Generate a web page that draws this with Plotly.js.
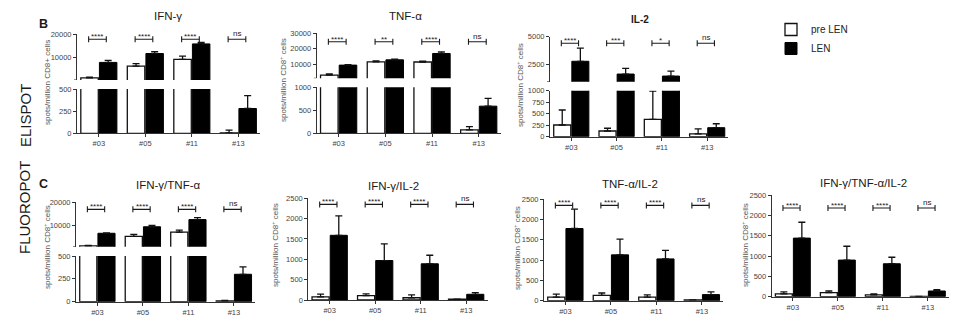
<!DOCTYPE html>
<html><head><meta charset="utf-8">
<script src="https://cdn.plot.ly/plotly-3.0.1.min.js"></script>
<style>html,body{margin:0;padding:0;background:#fff}#chart{width:958px;height:328px}</style>
</head><body><div id="chart"></div>
<script>
// ---------- DATA ----------
const categories = ['#03', '#05', '#11', '#13'];
const seriesNames = ['pre LEN', 'LEN'];

// ELISPOT
const ifngPre = [1400, 6400, 9300, 5];
const ifngPreErr = [300, 1100, 1400, 30];
const ifngLen = [8000, 11800, 15900, 280];
const ifngLenErr = [850, 850, 600, 145];
const ifngSig = ['****', '****', '****', 'ns'];

const tnfaPre = [3000, 11600, 11500, 75];
const tnfaPreErr = [800, 600, 600, 70];
const tnfaLen = [9500, 12900, 17000, 590];
const tnfaLenErr = [300, 400, 1000, 170];
const tnfaSig = ['****', '**', '****', 'ns'];

const il2Pre = [254, 124, 378, 60];
const il2PreErr = [326, 60, 615, 108];
const il2Len = [2815, 1680, 1500, 196];
const il2LenErr = [1170, 510, 440, 85];
const il2Sig = ['****', '***', '*', 'ns'];

// FLUOROPOT
const ifngTnfaPre = [850, 5000, 6900, 10];
const ifngTnfaPreErr = [200, 900, 850, 5];
const ifngTnfaLen = [6400, 9250, 12400, 300];
const ifngTnfaLenErr = [200, 600, 900, 80];
const ifngTnfaSig = ['****', '****', '****', 'ns'];

const ifngIl2Pre = [75, 110, 55, 20];
const ifngIl2PreErr = [70, 40, 70, 0];
const ifngIl2Len = [1590, 970, 890, 140];
const ifngIl2LenErr = [480, 410, 210, 40];
const ifngIl2Sig = ['****', '****', '****', 'ns'];

const tnfaIl2Pre = [90, 130, 90, 20];
const tnfaIl2PreErr = [70, 60, 55, 0];
const tnfaIl2Len = [1780, 1130, 1030, 150];
const tnfaIl2LenErr = [480, 390, 210, 70];
const tnfaIl2Sig = ['****', '****', '****', 'ns'];

const tripPre = [70, 100, 45, 5];
const tripPreErr = [50, 40, 25, 0];
const tripLen = [1440, 900, 810, 140];
const tripLenErr = [390, 340, 160, 35];
const tripSig = ['****', '****', '****', 'ns'];

// ---------- LAYOUT CONFIG ----------
const W = 958, H = 328;
const ySup = 'spots/million CD8<sup>+</sup> cells';
const panels = [
  {title: 'IFN-γ', tx: 168, ty: 16, pre: ifngPre, preErr: ifngPreErr, len: ifngLen, lenErr: ifngLenErr, sig: ifngSig, sigY: 17900,
   ax: 77, sp: 46.5, ytitle: 'spots/million CD8+ cells', ytx: 47, yty: 83,
   lower: {range: [0, 500], px: [133.3, 89], tickvals: [0, 250, 500]},
   upper: {range: [500, 20000], px: [80, 34.3], tickvals: [10000, 20000]}},
  {title: 'TNF-α', tx: 405, ty: 16, pre: tnfaPre, preErr: tnfaPreErr, len: tnfaLen, lenErr: tnfaLenErr, sig: tnfaSig, sigY: 24600,
   ax: 316.7, sp: 46.7, ytitle: ySup, ytx: 283, yty: 80,
   lower: {range: [0, 1000], px: [133.3, 87.3], tickvals: [0, 500, 1000]},
   upper: {range: [1000, 30000], px: [78.3, 33.3], tickvals: [10000, 20000, 30000]}},
  {title: '<b>IL-2</b>', tsize: 10, tx: 640, ty: 19, pre: il2Pre, preErr: il2PreErr, len: il2Len, lenErr: il2LenErr, sig: il2Sig, sigY: 4420,
   ax: 550, sp: 45.3, ytitle: ySup, ytx: 520, yty: 85,
   lower: {range: [0, 1000], px: [136.7, 90.7], tickvals: [0, 250, 500, 750, 1000]},
   upper: {range: [1000, 5000], px: [81.7, 36.7], tickvals: [2500, 5000]}},
  {title: 'IFN-γ/TNF-α', tx: 168, ty: 185, pre: ifngTnfaPre, preErr: ifngTnfaPreErr, len: ifngTnfaLen, lenErr: ifngTnfaLenErr, sig: ifngTnfaSig, sigY: 16900,
   ax: 76, sp: 45.5, ytitle: ySup, ytx: 47, yty: 247,
   lower: {range: [0, 500], px: [301.7, 256], tickvals: [0, 250, 500]},
   upper: {range: [500, 20000], px: [246.7, 202.3], tickvals: [10000, 20000]}},
  {title: 'IFN-γ/IL-2', tx: 393, ty: 186, pre: ifngIl2Pre, preErr: ifngIl2PreErr, len: ifngIl2Len, lenErr: ifngIl2LenErr, sig: ifngIl2Sig, sigY: 2350,
   ax: 308.3, sp: 45.5, ytitle: ySup, ytx: 275, yty: 245,
   lower: {range: [0, 2500], px: [300, 198.3], tickvals: [0, 500, 1000, 1500, 2000, 2500]}},
  {title: 'TNF-α/IL-2', tx: 630, ty: 184, pre: tnfaIl2Pre, preErr: tnfaIl2PreErr, len: tnfaIl2Len, lenErr: tnfaIl2LenErr, sig: tnfaIl2Sig, sigY: 2350,
   ax: 544, sp: 45.5, ytitle: ySup, ytx: 517, yty: 248,
   lower: {range: [0, 2500], px: [300.7, 199.3], tickvals: [0, 500, 1000, 1500, 2000, 2500]}},
  {title: 'IFN-γ/TNF-α/IL-2', tx: 863, ty: 183, pre: tripPre, preErr: tripPreErr, len: tripLen, lenErr: tripLenErr, sig: tripSig, sigY: 2180,
   ax: 771.7, sp: 45, ytitle: ySup, ytx: 745, yty: 245,
   lower: {range: [0, 2500], px: [296.7, 195], tickvals: [0, 500, 1000, 1500, 2000, 2500]}}
];

const FONT = 'Liberation Sans, Arial, sans-serif';
const INK = '#1a1a1a';
const AXC = '#333';
const traces = [];
const shapes = [];
const annotations = [];
const layout = {
  width: W, height: H, autosize: false,
  margin: {l: 0, r: 0, t: 0, b: 0},
  paper_bgcolor: '#fff', plot_bgcolor: 'rgba(0,0,0,0)',
  font: {family: FONT, color: INK},
  barmode: 'group', bargap: 0.2, bargroupgap: 0.06,
  showlegend: true,
  legend: {x: 771 / W, y: 1 - 15 / H, xanchor: 'left', yanchor: 'top',
           font: {size: 10, color: '#222', family: FONT}, bgcolor: 'rgba(0,0,0,0)',
           tracegroupgap: 0, itemclick: false}
};

let yCount = 0;
panels.forEach((p, pi) => {
  const xid = pi === 0 ? 'x' : 'x' + (pi + 1);
  const xname = pi === 0 ? 'xaxis' : 'xaxis' + (pi + 1);
  const segs = p.upper ? [p.lower, p.upper] : [p.lower];
  const yids = segs.map(() => { yCount++; return yCount === 1 ? 'y' : 'y' + yCount; });
  const right = Math.min(p.ax + 3.94 * p.sp, W - 2);
  layout[xname] = {
    domain: [p.ax / W, right / W], range: [-0.47, 3.47], anchor: yids[0],
    type: 'category', categoryarray: categories, showline: true, linecolor: AXC, linewidth: 1,
    ticks: 'outside', ticklen: 3, tickwidth: 1, tickcolor: AXC, showgrid: false, zeroline: false,
    tickfont: {size: 7.5, color: '#444', family: FONT}, fixedrange: true
  };
  segs.forEach((s, si) => {
    const yid = yids[si];
    const yname = 'yaxis' + (yid === 'y' ? '' : yid.slice(1));
    layout[yname] = {
      domain: [1 - s.px[0] / H, 1 - s.px[1] / H], range: s.range, anchor: xid,
      showline: true, linecolor: AXC, linewidth: 1, ticks: 'outside', ticklen: 3, tickwidth: 1, tickcolor: AXC,
      tickvals: s.tickvals, ticktext: s.tickvals.map(String),
      showgrid: false, zeroline: false, tickfont: {size: 7.5, color: '#444', family: FONT}, fixedrange: true
    };
    // in the upper (broken) segment, only values that reach into its range are drawn
    const keep = v => (si === 0 || v > s.range[0]) ? v : null;
    const showLeg = pi === 0 && si === 0;
    traces.push({
      type: 'bar', name: seriesNames[0], legendgroup: 'pre', showlegend: showLeg,
      x: categories, y: p.pre.map(keep), xaxis: xid, yaxis: yid,
      marker: {color: '#ffffff', line: {color: '#111', width: 1.3}},
      error_y: {type: 'data', symmetric: false, array: p.preErr, arrayminus: p.preErr.map(() => 0), color: '#111', thickness: 1.3, width: 3.5},
      hoverinfo: 'skip'
    });
    traces.push({
      type: 'bar', name: seriesNames[1], legendgroup: 'len', showlegend: showLeg,
      x: categories, y: p.len.map(keep), xaxis: xid, yaxis: yid,
      marker: {color: '#000000', line: {color: '#000', width: 1}},
      error_y: {type: 'data', symmetric: false, array: p.lenErr, arrayminus: p.lenErr.map(() => 0), color: '#111', thickness: 1.3, width: 3.5},
      hoverinfo: 'skip'
    });
    if (si === 1) {
      // axis-break tick at the bottom of the upper segment
      shapes.push({type: 'line', xref: xid + ' domain', yref: yid, xsizemode: 'pixel', xanchor: 0, x0: -3, x1: 0,
        y0: s.range[0], y1: s.range[0], line: {color: AXC, width: 1}});
    }
  });
  // significance brackets on the top segment
  const topY = yids[yids.length - 1];
  p.sig.forEach((txt, i) => {
    const xl = i - 0.22, xr = i + 0.16;
    const ln = {color: INK, width: 1.1};
    shapes.push({type: 'line', xref: xid, yref: topY, x0: xl, x1: xr, y0: p.sigY, y1: p.sigY, line: ln});
    [xl, xr].forEach(xe => shapes.push({type: 'line', xref: xid, yref: topY, x0: xe, x1: xe,
      ysizemode: 'pixel', yanchor: p.sigY, y0: -3, y1: 3, line: ln}));
    annotations.push({xref: xid, yref: topY, x: (xl + xr) / 2, y: p.sigY, text: txt, showarrow: false,
      yanchor: 'bottom', yshift: txt === 'ns' ? -1 : -4, font: {size: 8, color: INK, family: FONT}});
  });
  // panel title
  annotations.push({xref: 'paper', yref: 'paper', x: p.tx / W, y: 1 - p.ty / H, text: p.title, showarrow: false,
    xanchor: 'center', yanchor: 'middle', font: {size: p.tsize || 11.5, color: INK, family: FONT}});
  // y-axis title
  annotations.push({xref: 'paper', yref: 'paper', x: p.ytx / W, y: 1 - p.yty / H, text: p.ytitle, showarrow: false,
    textangle: -90, xanchor: 'center', yanchor: 'middle', font: {size: 8, color: '#555', family: FONT}});
});

// row labels and panel letters
annotations.push({xref: 'paper', yref: 'paper', x: 15 / W, y: 1 - 82 / H, text: 'ELISPOT', showarrow: false,
  textangle: -90, font: {size: 15, color: INK, family: FONT}});
annotations.push({xref: 'paper', yref: 'paper', x: 14 / W, y: 1 - 256 / H, text: 'FLUOROPOT', showarrow: false,
  textangle: -90, font: {size: 15, color: INK, family: FONT}});
annotations.push({xref: 'paper', yref: 'paper', x: 37 / W, y: 1 - 15.5 / H, text: '<b>B</b>', showarrow: false,
  font: {size: 12.5, color: INK, family: FONT}});
annotations.push({xref: 'paper', yref: 'paper', x: 37 / W, y: 1 - 183.5 / H, text: '<b>C</b>', showarrow: false,
  font: {size: 12.5, color: INK, family: FONT}});

layout.shapes = shapes;
layout.annotations = annotations;

Plotly.newPlot('chart', traces, layout, {displayModeBar: false, staticPlot: true});
</script>
</body></html>
